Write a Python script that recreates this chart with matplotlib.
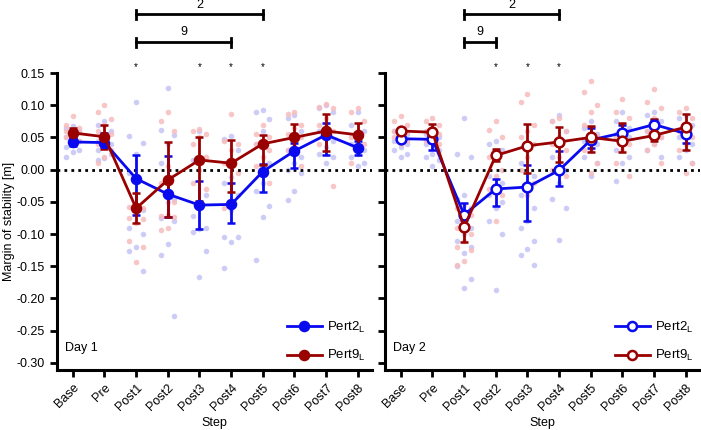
import numpy as np
import matplotlib
matplotlib.use('Agg')
import matplotlib.pyplot as plt
from matplotlib.lines import Line2D

plt.rcParams['font.family'] = ['Liberation Sans', 'DejaVu Sans']

steps = ['Base', 'Pre', 'Post1', 'Post2', 'Post3', 'Post4', 'Post5', 'Post6', 'Post7', 'Post8']

# Day 1 group means and error bar ends
d1_p2_mean = [0.043, 0.042, -0.014, -0.038, -0.055, -0.054, -0.003, 0.029, 0.054, 0.034]
d1_p2_lo = [0.037, 0.035, -0.071, -0.074, -0.092, -0.083, -0.034, 0.003, 0.022, 0.023]
d1_p2_hi = [0.051, 0.057, 0.023, 0.021, -0.018, -0.021, 0.008, 0.041, 0.072, 0.045]
d1_p9_mean = [0.057, 0.051, -0.060, -0.016, 0.015, 0.010, 0.040, 0.050, 0.060, 0.054]
d1_p9_lo = [0.050, 0.032, -0.083, -0.074, -0.048, -0.034, 0.007, 0.030, 0.029, 0.036]
d1_p9_hi = [0.064, 0.070, -0.037, 0.043, 0.051, 0.046, 0.054, 0.071, 0.087, 0.073]

# Day 2 group means and error bar ends
d2_p2_mean = [0.048, 0.047, -0.070, -0.030, -0.027, -0.001, 0.046, 0.057, 0.070, 0.056]
d2_p2_lo = [0.044, 0.030, -0.078, -0.056, -0.079, -0.026, 0.034, 0.044, 0.058, 0.042]
d2_p2_hi = [0.052, 0.052, -0.052, -0.015, 0.007, 0.029, 0.064, 0.070, 0.077, 0.064]
d2_p9_mean = [0.060, 0.058, -0.089, 0.022, 0.037, 0.043, 0.050, 0.044, 0.053, 0.066]
d2_p9_lo = [0.056, 0.048, -0.113, 0.014, -0.005, 0.012, 0.028, 0.028, 0.044, 0.030]
d2_p9_hi = [0.065, 0.071, -0.067, 0.032, 0.071, 0.066, 0.068, 0.072, 0.078, 0.087]

# individual subjects, one list per step
d1_p2_pts = [
    [0.068, 0.065, 0.060, 0.055, 0.050, 0.045, 0.040, 0.035, 0.030, 0.027, 0.020],
    [0.075, 0.070, 0.060, 0.050, 0.045, 0.040, 0.035, 0.030, 0.025, 0.018, 0.015],
    [0.105, 0.052, 0.042, 0.024, -0.005, -0.062, -0.065, -0.090, -0.100, -0.120, -0.127, -0.158],
    [0.127, 0.062, 0.054, 0.040, 0.010, -0.045, -0.050, -0.075, -0.080, -0.116, -0.133, -0.227],
    [0.060, 0.015, -0.040, -0.060, -0.072, -0.091, -0.092, -0.097, -0.127, -0.167],
    [0.052, 0.048, 0.030, -0.012, -0.020, -0.040, -0.062, -0.104, -0.105, -0.112, -0.152],
    [0.092, 0.090, 0.078, 0.060, 0.040, 0.010, -0.020, -0.033, -0.057, -0.074, -0.140],
    [0.085, 0.080, 0.060, 0.045, 0.030, 0.020, 0.010, 0.000, -0.005, -0.033, -0.047],
    [0.100, 0.095, 0.090, 0.070, 0.060, 0.045, 0.035, 0.025, 0.020, 0.010],
    [0.090, 0.070, 0.060, 0.050, 0.040, 0.030, 0.025, 0.020, 0.010, 0.005],
]
d1_p9_pts = [
    [0.083, 0.070, 0.065, 0.062, 0.060, 0.058, 0.055, 0.050, 0.045, 0.040],
    [0.100, 0.090, 0.078, 0.070, 0.060, 0.055, 0.050, 0.040, 0.030, 0.020, 0.010],
    [-0.055, -0.058, -0.060, -0.062, -0.075, -0.076, -0.083, -0.110, -0.120, -0.143],
    [0.090, 0.075, 0.060, 0.005, -0.020, -0.050, -0.070, -0.072, -0.073, -0.090, -0.094],
    [0.063, 0.060, 0.055, 0.050, 0.040, 0.020, 0.000, -0.020, -0.030],
    [0.086, 0.045, 0.040, 0.030, 0.010, -0.005, -0.020, -0.060],
    [0.070, 0.055, 0.050, 0.045, 0.040, 0.030, 0.020, 0.005, -0.020],
    [0.090, 0.087, 0.070, 0.065, 0.055, 0.050, 0.040, 0.030, 0.005],
    [0.102, 0.098, 0.095, 0.080, 0.070, 0.060, 0.050, 0.040, -0.026],
    [0.095, 0.090, 0.075, 0.060, 0.050, 0.040, 0.030, 0.010],
]
d2_p2_pts = [
    [0.065, 0.060, 0.055, 0.050, 0.045, 0.040, 0.035, 0.030, 0.025, 0.020],
    [0.060, 0.055, 0.050, 0.045, 0.040, 0.030, 0.025, 0.020, 0.015, 0.005],
    [0.080, 0.025, 0.020, -0.040, -0.045, -0.060, -0.075, -0.080, -0.090, -0.100, -0.110,
     -0.120, -0.130, -0.150, -0.170, -0.183],
    [0.045, 0.040, 0.030, 0.020, -0.010, -0.020, -0.030, -0.040, -0.050, -0.060, -0.080, -0.100, -0.187],
    [0.030, 0.010, -0.010, -0.020, -0.040, -0.060, -0.080, -0.090, -0.110, -0.123, -0.132, -0.148],
    [0.085, 0.075, 0.060, 0.040, 0.020, 0.000, -0.020, -0.045, -0.060, -0.109],
    [0.075, 0.065, 0.055, 0.050, 0.045, 0.040, 0.030, 0.020, 0.010, -0.010],
    [0.090, 0.075, 0.065, 0.060, 0.055, 0.050, 0.040, 0.030, 0.020, 0.010, -0.018],
    [0.090, 0.085, 0.075, 0.070, 0.060, 0.050, 0.040, 0.030, 0.020],
    [0.085, 0.080, 0.070, 0.060, 0.050, 0.040, 0.030, 0.020, 0.010],
]
d2_p9_pts = [
    [0.083, 0.075, 0.070, 0.065, 0.060, 0.058, 0.055, 0.050, 0.045, 0.040],
    [0.080, 0.075, 0.070, 0.065, 0.060, 0.055, 0.050, 0.045, 0.040],
    [-0.055, -0.060, -0.070, -0.080, -0.090, -0.100, -0.110, -0.120, -0.125, -0.142, -0.148],
    [0.076, 0.062, 0.050, 0.030, 0.020, 0.000, -0.010, -0.030, -0.040, -0.080],
    [0.117, 0.105, 0.070, 0.060, 0.050, 0.040, 0.020, 0.000, -0.020, -0.040],
    [0.080, 0.075, 0.060, 0.050, 0.040, 0.030, 0.020, 0.000, -0.010],
    [0.137, 0.120, 0.100, 0.090, 0.070, 0.050, 0.040, 0.030, 0.010, -0.005],
    [0.110, 0.090, 0.080, 0.060, 0.050, 0.040, 0.030, 0.010, -0.010],
    [0.125, 0.105, 0.095, 0.080, 0.060, 0.050, 0.040, 0.030, 0.010],
    [0.095, 0.090, 0.080, 0.070, 0.060, 0.050, 0.040, 0.030, 0.010, -0.005],
]

# significance brackets: (label, start step, end step)
d1_brackets = [('2', 2, 6), ('9', 2, 5)]
d2_brackets = [('2', 2, 5), ('9', 2, 3)]
d1_stars = [2, 4, 5, 6]
d2_stars = [3, 4, 5]

BLUE = '#0a0aef'
RED = '#990000'
LBLUE = '#c4c4f6'
LRED = '#f7bcbc'
FS = 9


def draw_points(ax, pts, color):
    offs = [0.0, -0.21, 0.21]
    for i, vals in enumerate(pts):
        xs = [i + offs[k % 3] for k in range(len(vals))]
        ax.scatter(xs, vals, s=16, color=color, alpha=0.85, linewidths=0, zorder=1)


def draw_group(ax, mean, lo, hi, color, filled):
    x = np.arange(len(mean))
    mean = np.array(mean)
    yerr = [mean - np.array(lo), np.array(hi) - mean]
    ax.errorbar(x, mean, yerr=yerr, color=color, lw=2, capsize=3, capthick=2,
                elinewidth=2, marker='o', ms=6.5 if filled else 7,
                mfc=color if filled else 'white', mec=color, mew=1.8, zorder=3)


def draw_sig(ax, brackets, stars):
    levels = [0.241, 0.198]
    for (lab, a, b), yb in zip(brackets, levels):
        ax.plot([a, b], [yb, yb], color='k', lw=2, clip_on=False)
        for xe in (a, b):
            ax.plot([xe, xe], [yb - 0.007, yb + 0.007], color='k', lw=2, clip_on=False)
        ax.text((a + b) / 2, yb + 0.006, lab, ha='center', va='bottom', fontsize=FS, clip_on=False)
    for s in stars:
        ax.text(s, 0.152, '*', ha='center', va='bottom', fontsize=7, clip_on=False)


fig = plt.figure(figsize=(7.01, 4.30), dpi=100)
ax1 = fig.add_axes([57 / 701, 1 - 370 / 430, 315 / 701, 297 / 430])
ax2 = fig.add_axes([385 / 701, 1 - 370 / 430, 315 / 701, 297 / 430])

panels = [
    (ax1, d1_p2_pts, d1_p9_pts, (d1_p2_mean, d1_p2_lo, d1_p2_hi), (d1_p9_mean, d1_p9_lo, d1_p9_hi),
     True, 'Day 1', d1_brackets, d1_stars),
    (ax2, d2_p2_pts, d2_p9_pts, (d2_p2_mean, d2_p2_lo, d2_p2_hi), (d2_p9_mean, d2_p9_lo, d2_p9_hi),
     False, 'Day 2', d2_brackets, d2_stars),
]

for ax, p2pts, p9pts, p2, p9, filled, day, br, st in panels:
    draw_points(ax, p2pts, LBLUE)
    draw_points(ax, p9pts, LRED)
    ax.axhline(0, color='k', lw=2, ls=(0, (1, 1.5)), zorder=2)
    draw_group(ax, *p2, BLUE, filled)
    draw_group(ax, *p9, RED, filled)
    draw_sig(ax, br, st)

    ax.set_xlim(-0.5, 9.45)
    ax.set_ylim(-0.311, 0.15)
    ax.set_yticks([0.15, 0.10, 0.05, 0.0, -0.05, -0.10, -0.15, -0.20, -0.25, -0.30])
    ax.set_xticks(range(len(steps)))
    ax.set_xticklabels(steps, rotation=45, ha='right', rotation_mode='anchor', fontsize=FS)
    for sp in ['top', 'right']:
        ax.spines[sp].set_visible(False)
    for sp in ['left', 'bottom']:
        ax.spines[sp].set_linewidth(2.2)
    ax.tick_params(width=2, length=5, labelsize=FS)
    ax.set_xlabel('Step', fontsize=FS, labelpad=3)
    ax.text(0.025, 0.055, day, transform=ax.transAxes, fontsize=FS, ha='left', va='bottom')

    handles = [
        Line2D([], [], color=BLUE, lw=2, marker='o', ms=6.5, mfc=BLUE if filled else 'white', mec=BLUE, mew=1.8),
        Line2D([], [], color=RED, lw=2, marker='o', ms=6.5, mfc=RED if filled else 'white', mec=RED, mew=1.8),
    ]
    ax.legend(handles, ['Pert2$_\\mathregular{L}$', 'Pert9$_\\mathregular{L}$'], loc='lower right',
              frameon=False, fontsize=9.5, handlelength=2.6, labelspacing=1.0,
              borderaxespad=0.1, handletextpad=0.4)

ax1.yaxis.set_major_formatter(matplotlib.ticker.FormatStrFormatter('%.2f'))
ax1.set_ylabel('Margin of stability [m]', fontsize=FS, labelpad=1)
ax2.set_yticklabels([])

fig.savefig('out.png', dpi=100)
